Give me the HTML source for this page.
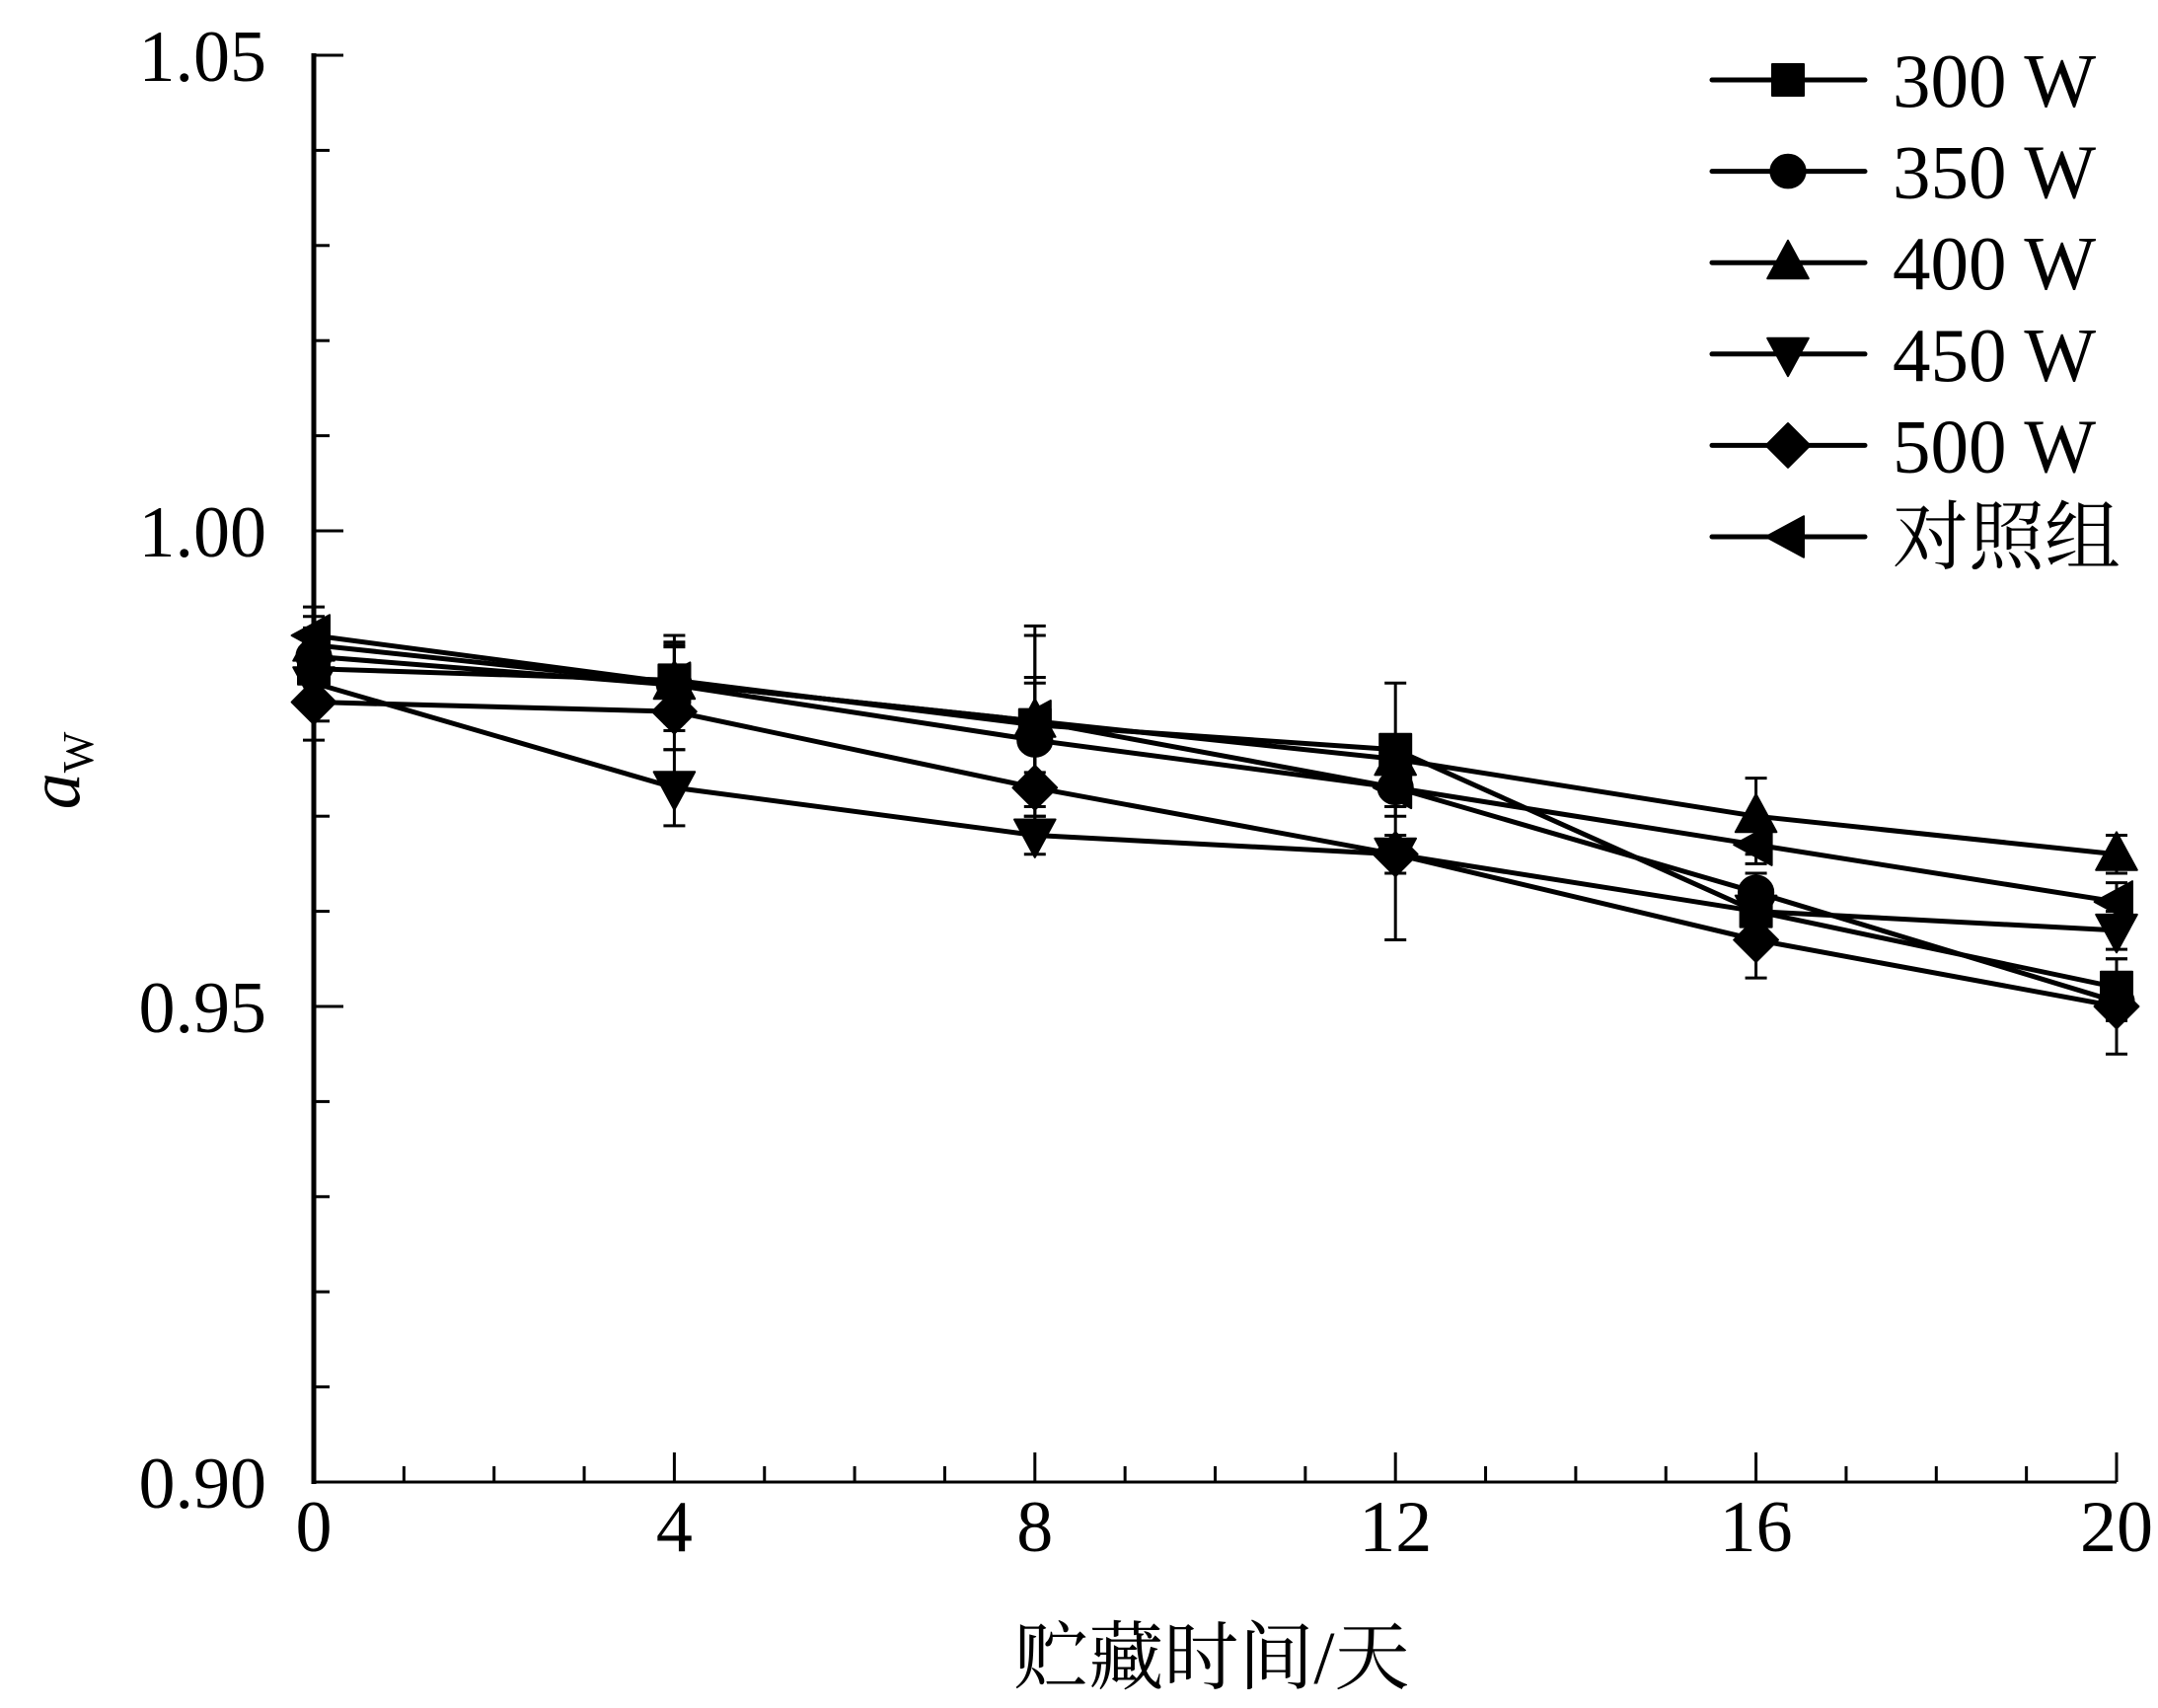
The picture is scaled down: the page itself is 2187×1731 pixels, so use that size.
<!DOCTYPE html>
<html><head><meta charset="utf-8"><style>
html,body{margin:0;padding:0;background:#fff;}
svg{display:block;}
text{font-family:"Liberation Serif","Noto Serif CJK SC",serif;fill:#000;}
</style></head><body>
<svg id="chart" width="2187" height="1731" viewBox="0 0 2187 1731" xmlns="http://www.w3.org/2000/svg">
<g id="axes"></g>
<g id="series"></g>
<g id="legend"></g>
<text x="1228" y="1706" font-size="76" text-anchor="middle">贮藏时间/天</text>
<text transform="translate(80,781) rotate(-90)" font-size="74" text-anchor="middle"><tspan font-style="italic">a</tspan><tspan font-size="44" dy="14">W</tspan></text>
</svg>
<script>
const days = [0, 4, 8, 12, 16, 20];
const seriesNames = ["300 W", "350 W", "400 W", "450 W", "500 W", "对照组"];
const s300 = [0.9855, 0.9843, 0.9796, 0.9770, 0.9600, 0.9520];
const s350 = [0.9868, 0.9838, 0.9780, 0.9730, 0.9620, 0.9505];
const s400 = [0.9880, 0.9840, 0.9800, 0.9760, 0.9700, 0.9660];
const s450 = [0.9840, 0.9730, 0.9680, 0.9660, 0.9600, 0.9580];
const s500 = [0.9820, 0.9810, 0.9730, 0.9660, 0.9570, 0.9500];
const sCtl = [0.9890, 0.9840, 0.9800, 0.9730, 0.9670, 0.9610];
const e300 = [0.003, 0.004, 0.005, 0.007, 0.002, 0.003];
const e350 = [0.003, 0.004, 0.006, 0.002, 0.002, 0.002];
const e400 = [0.003, 0.004, 0.009, 0.002, 0.004, 0.002];
const e450 = [0.003, 0.004, 0.002, 0.002, 0.002, 0.002];
const e500 = [0.004, 0.004, 0.004, 0.009, 0.004, 0.005];
const eCtl = [0.003, 0.005, 0.010, 0.002, 0.002, 0.002];
const yTicks = ["0.90", "0.95", "1.00", "1.05"];
const xTicks = ["0", "4", "8", "12", "16", "20"];

const NS = "http://www.w3.org/2000/svg";
const X0 = 318, X1 = 2145, Y0 = 1502, Y1 = 56;
const xs = d => X0 + (d - 0) / 20 * (X1 - X0);
const ys = v => Y0 - (v - 0.90) / 0.15 * (Y0 - Y1);
function mk(tag, attrs, parent) {
  const e = document.createElementNS(NS, tag);
  for (const k in attrs) e.setAttribute(k, attrs[k]);
  parent.appendChild(e);
  return e;
}
const axes = document.getElementById('axes');
let l = mk('line', {x1: X0, y1: Y1 - 2, x2: X0, y2: Y0 + 2, stroke: '#000', 'stroke-width': 5}, axes);


l = mk('line', {x1: X0 - 2, y1: Y0, x2: X1, y2: Y0, stroke: '#000', 'stroke-width': 3}, axes);


for (let i = 0; i <= 15; i++) {
  const v = 0.90 + i * 0.01, y = ys(v), major = i % 5 === 0;
  const t = mk('line', {x1: X0, y1: y, x2: X0 + (major ? 30 : 16), y2: y, stroke: '#000', 'stroke-width': 3}, axes);
  
  
}
yTicks.forEach(s => {
  const t = mk('text', {x: 270, y: ys(parseFloat(s)) + 26, 'font-size': 74, 'text-anchor': 'end'}, axes);
  t.textContent = s;
  
  
});
for (let d = 0; d <= 20; d++) {
  const x = xs(d), major = d % 4 === 0;
  const t = mk('line', {x1: x, y1: Y0, x2: x, y2: Y0 - (major ? 30 : 16), stroke: '#000', 'stroke-width': 3}, axes);
  
  
}
xTicks.forEach(s => {
  const t = mk('text', {x: xs(parseFloat(s)), y: 1572, 'font-size': 74, 'text-anchor': 'middle'}, axes);
  t.textContent = s;
  
  
});

function marker(kind, x, y, parent, r) {
  let e;
  if (kind === 0) e = mk('rect', {x: x - r, y: y - r, width: 2 * r, height: 2 * r}, parent);
  else if (kind === 1) e = mk('ellipse', {cx: x, cy: y, rx: r * 1.1, ry: r * 1.05}, parent);
  else if (kind === 2) e = mk('polygon', {points: `${x},${y - r * 1.4} ${x - r * 1.3},${y + r * 1.0} ${x + r * 1.3},${y + r * 1.0}`}, parent);
  else if (kind === 3) e = mk('polygon', {points: `${x},${y + r * 1.4} ${x - r * 1.3},${y - r * 1.0} ${x + r * 1.3},${y - r * 1.0}`}, parent);
  else if (kind === 4) e = mk('polygon', {points: `${x},${y - r * 1.4} ${x + r * 1.4},${y} ${x},${y + r * 1.4} ${x - r * 1.4},${y}`}, parent);
  else e = mk('polygon', {points: `${x - r * 1.4},${y} ${x + r * 1.0},${y - r * 1.3} ${x + r * 1.0},${y + r * 1.3}`}, parent);
  e.setAttribute('fill', '#000');
  e.setAttribute('stroke', '#000');
  e.setAttribute('stroke-width', 2);
  e.setAttribute('stroke-linejoin', 'round');
  return e;
}

const allS = [s300, s350, s400, s450, s500, sCtl];
const allE = [e300, e350, e400, e450, e500, eCtl];
const keys = ['300w', '350w', '400w', '450w', '500w', 'control'];
const sg = document.getElementById('series');
allS.forEach((vals, si) => {
  const g = mk('g', {}, sg);
  
  
  vals.forEach((v, i) => {
    const x = xs(days[i]), e = allE[si][i];
    const b = mk('path', {d: `M${x},${ys(v + e)}V${ys(v - e)}M${x - 11},${ys(v + e)}H${x + 11}M${x - 11},${ys(v - e)}H${x + 11}`, stroke: '#000', 'stroke-width': 3, fill: 'none'}, g);
    
    
  });
  const p = mk('polyline', {points: vals.map((v, i) => xs(days[i]) + ',' + ys(v)).join(' '), fill: 'none', stroke: '#000', 'stroke-width': 5, 'stroke-linejoin': 'round'}, g);
  
  
  vals.forEach((v, i) => {
    const m = marker(si, xs(days[i]), ys(v), g, 16);
    
    
  });
});

const lg = document.getElementById('legend');
seriesNames.forEach((n, i) => {
  const y = 81 + i * 92.6;
  const g = mk('g', {}, lg);
  
  
  mk('line', {x1: 1735, y1: y, x2: 1890, y2: y, stroke: '#000', 'stroke-width': 5, 'stroke-linecap': 'round'}, g);
  marker(i, 1812, y, g, 16);
  const t = mk('text', {x: 1918, y: y + 27, 'font-size': 77}, g);
  t.textContent = n;
  
  
});
</script>
</body></html>
